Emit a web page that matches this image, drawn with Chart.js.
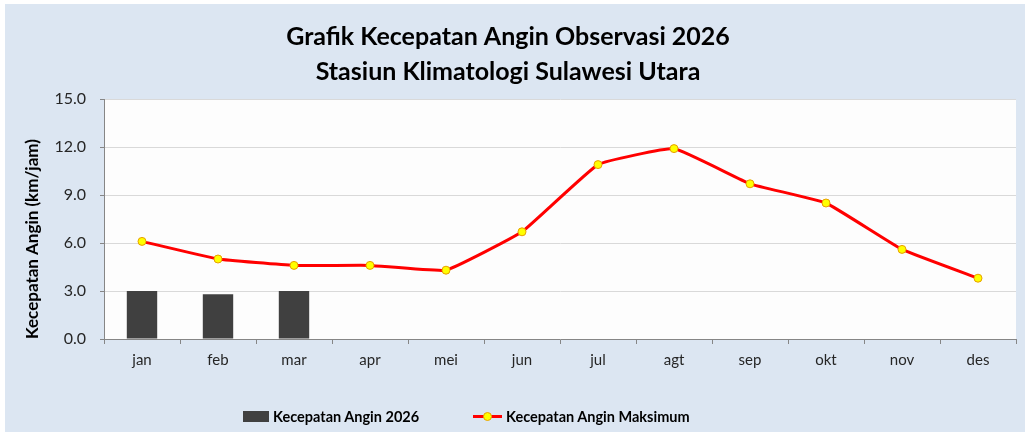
<!DOCTYPE html>
<html><head><meta charset="utf-8">
<script src="https://cdn.jsdelivr.net/npm/chart.js@4.4.1/dist/chart.umd.min.js"></script>
<style>
html,body{margin:0;padding:0;background:#fff;}
#wrap{position:relative;width:1025px;height:432px;overflow:hidden;}
#c{position:absolute;left:0;top:0;}
.lg{position:absolute;top:406px;height:20px;display:flex;align-items:center;font:bold 14.5px Lato,"Open Sans",sans-serif;color:#000;white-space:nowrap;}
.sw{display:inline-block;margin-right:4px;position:relative;}
</style></head><body>
<div id="wrap">
<canvas id="c" width="1025" height="432"></canvas>
<div class="lg" id="lg1" style="left:243px"><span class="sw" style="width:26px;height:11px;background:#404040"></span><span id="t1"></span></div>
<div class="lg" id="lg2" style="left:473px"><span class="sw" style="width:29px;height:11px"><span style="position:absolute;left:0;top:4px;width:29px;height:3px;background:#ff0000"></span><span style="position:absolute;left:10px;top:1px;width:7px;height:7px;border-radius:50%;background:#ffff00;border:1px solid #e8a000"></span></span><span id="t2"></span></div>
</div>
<script>
const titleLines = ['Grafik Kecepatan Angin Observasi 2026', 'Stasiun Klimatologi Sulawesi Utara'];
const months = ['jan','feb','mar','apr','mei','jun','jul','agt','sep','okt','nov','des'];
const angin2026 = [3.0, 2.8, 3.0, null, null, null, null, null, null, null, null, null];
const anginMaksimum = [6.1, 5.0, 4.6, 4.6, 4.3, 6.7, 10.9, 11.9, 9.7, 8.5, 5.6, 3.8];
const seriesNames = ['Kecepatan Angin 2026', 'Kecepatan Angin Maksimum'];
const yAxisTitle = 'Kecepatan Angin (km/jam)';
const yMin = 0, yMax = 15, yStep = 3;

document.getElementById('t1').textContent = seriesNames[0];
document.getElementById('t2').textContent = seriesNames[1];

const bgPlugin = {
  id: 'bg',
  beforeDraw(chart) {
    const ctx = chart.ctx, a = chart.chartArea;
    ctx.save();
    ctx.fillStyle = '#ffffff';
    ctx.fillRect(0, 0, chart.width, chart.height);
    ctx.fillStyle = '#dce6f2';
    ctx.fillRect(5, 4, chart.width - 5, chart.height - 4);
    ctx.fillStyle = '#fdfdfd';
    ctx.fillRect(a.left, a.top, a.right - a.left, a.bottom - a.top);
    ctx.restore();
  }
};

const FONT = 'Lato, "Open Sans", sans-serif';

new Chart(document.getElementById('c'), {
  type: 'bar',
  data: {
    labels: months,
    datasets: [
      {
        type: 'bar',
        label: seriesNames[0],
        data: angin2026,
        backgroundColor: '#404040',
        borderWidth: 0,
        barPercentage: 0.4,
        categoryPercentage: 1.0,
        order: 2
      },
      {
        type: 'line',
        label: seriesNames[1],
        data: anginMaksimum,
        borderColor: '#ff0000',
        borderWidth: 3,
        backgroundColor: '#ffff00',
        pointBackgroundColor: '#ffff00',
        pointBorderColor: '#e8a000',
        pointBorderWidth: 1,
        pointRadius: 4,
        tension: 0.1,
        fill: false,
        order: 1
      }
    ]
  },
  options: {
    responsive: false,
    animation: false,
    layout: { padding: { left: 0, right: 9, top: 0, bottom: 0 } },
    plugins: {
      legend: { display: false },
      tooltip: { enabled: false },
      title: {
        display: true,
        text: titleLines,
        color: '#000000',
        font: { family: FONT, size: 25, weight: 'bold', lineHeight: 1.4 },
        padding: { top: 19, bottom: 10 }
      }
    },
    scales: {
      x: {
        offset: true,
        grid: { display: true, offset: true, drawOnChartArea: false, drawTicks: true, tickLength: 5, color: '#868686' },
        border: { display: true, color: '#868686', width: 1 },
        ticks: { color: '#262626', font: { family: FONT, size: 15 }, padding: 7, maxRotation: 0 },
        afterFit(s) { s.height = 93; }
      },
      y: {
        min: yMin, max: yMax,
        ticks: { stepSize: yStep, color: '#262626', font: { family: FONT, size: 16 }, padding: 14,
          callback: v => Number(v).toFixed(1) },
        grid: { color: '#d9d9d9', lineWidth: 1, tickLength: 4, drawTicks: true,
          tickColor: '#868686' },
        border: { display: true, color: '#868686', width: 1 },
        title: { display: true, text: yAxisTitle, align: 'start', color: '#000', font: { family: FONT, size: 17, weight: 'bold' }, padding: { top: 22, bottom: 0 } },
        afterFit(s) { s.width = 104; }
      }
    }
  },
  plugins: [bgPlugin]
});
</script>
</body></html>
